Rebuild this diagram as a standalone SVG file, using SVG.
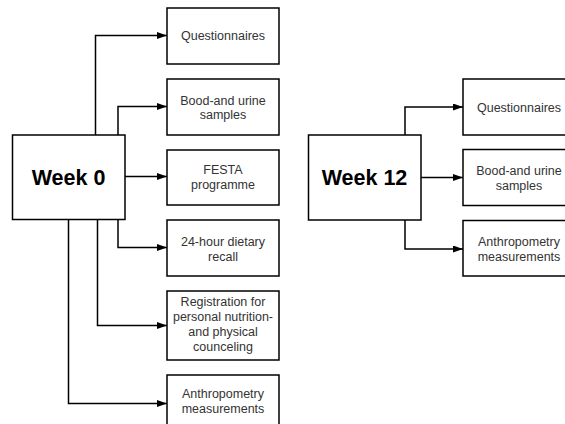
<svg xmlns="http://www.w3.org/2000/svg" width="565" height="424" viewBox="0 0 565 424">
<style>
.box{fill:#fff;stroke:#000;stroke-width:1.5}
.lbl{font-family:"Liberation Sans",Arial,sans-serif;font-size:12.5px;fill:#333;text-anchor:middle}
.wk{font-family:"Liberation Sans",Arial,sans-serif;font-size:21.5px;font-weight:bold;fill:#000;text-anchor:middle}
.conn{fill:none;stroke:#000;stroke-width:1.5;marker-end:url(#arr)}
</style>
<defs>
<marker id="arr" markerUnits="userSpaceOnUse" markerWidth="11" markerHeight="8" refX="10" refY="3.5" orient="auto">
<path d="M0,0 L10,3.5 L0,7 z" fill="#000"/>
</marker>
</defs>
<rect width="565" height="424" fill="#fff"/>
<g id="connectors">
<path class="conn" d="M95.5,135 V35.5 H167"/>
<path class="conn" d="M118,135 V106.5 H167"/>
<path class="conn" d="M125,176.5 H167"/>
<path class="conn" d="M118,219.5 V247.5 H167"/>
<path class="conn" d="M97.5,219.5 V325.5 H167"/>
<path class="conn" d="M68.5,219.5 V403.5 H167"/>
<path class="conn" d="M405,135 V107 H463"/>
<path class="conn" d="M421,177.5 H463"/>
<path class="conn" d="M405,220 V249 H463"/>
</g>
<g id="week0">
<rect class="box" x="12.5" y="135" width="112.5" height="84.5"/>
<text class="wk" x="68.5" y="184.5">Week 0</text>
</g>
<g id="w0-questionnaires">
<rect class="box" x="167" y="8" width="112" height="56"/>
<text class="lbl" x="223" y="40">Questionnaires</text>
</g>
<g id="w0-blood">
<rect class="box" x="167" y="79" width="112" height="56"/>
<text class="lbl" x="223" y="104.5">Bood-and urine</text>
<text class="lbl" x="223" y="119">samples</text>
</g>
<g id="w0-festa">
<rect class="box" x="167" y="150" width="112" height="55"/>
<text class="lbl" x="223" y="173.5">FESTA</text>
<text class="lbl" x="223" y="188.5">programme</text>
</g>
<g id="w0-recall">
<rect class="box" x="167" y="220" width="112" height="56"/>
<text class="lbl" x="223" y="245.5">24-hour dietary</text>
<text class="lbl" x="223" y="260.5">recall</text>
</g>
<g id="w0-registration">
<rect class="box" x="167" y="291" width="112" height="69"/>
<text class="lbl" x="223" y="305.5">Registration for</text>
<text class="lbl" x="223" y="320.5">personal nutrition-</text>
<text class="lbl" x="223" y="335.5">and physical</text>
<text class="lbl" x="223" y="350.5">counceling</text>
</g>
<g id="w0-anthropometry">
<rect class="box" x="167" y="375" width="112" height="56"/>
<text class="lbl" x="223" y="398">Anthropometry</text>
<text class="lbl" x="223" y="413">measurements</text>
</g>
<g id="week12">
<rect class="box" x="308.5" y="135" width="112.5" height="85"/>
<text class="wk" x="364.5" y="184.5">Week 12</text>
</g>
<g id="w12-questionnaires">
<rect class="box" x="463" y="79" width="112" height="56"/>
<text class="lbl" x="519" y="111.5">Questionnaires</text>
</g>
<g id="w12-blood">
<rect class="box" x="463" y="149.5" width="112" height="56"/>
<text class="lbl" x="519" y="175">Bood-and urine</text>
<text class="lbl" x="519" y="189.5">samples</text>
</g>
<g id="w12-anthropometry">
<rect class="box" x="463" y="220.5" width="112" height="55.5"/>
<text class="lbl" x="519" y="245.5">Anthropometry</text>
<text class="lbl" x="519" y="260.5">measurements</text>
</g>
</svg>
